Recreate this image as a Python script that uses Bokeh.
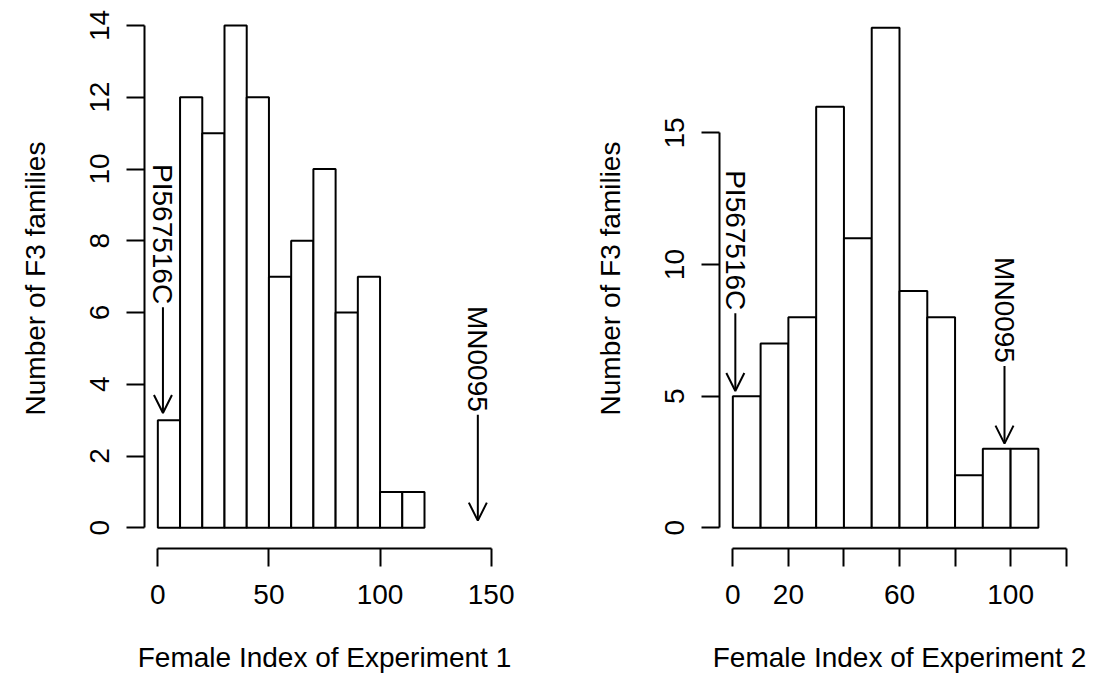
import numpy as np
from bokeh.plotting import figure
from bokeh.layouts import row
from bokeh.models import Arrow, OpenHead, ColumnDataSource, FixedTicker, Range1d
from bokeh.core.properties import value
from bokeh.embed import file_html
from bokeh.resources import INLINE

# ---- Experiment 1 data ----
exp1_edges = [0, 10, 20, 30, 40, 50, 60, 70, 80, 90, 100, 110, 120]
exp1_counts = [3, 12, 11, 14, 12, 7, 8, 10, 6, 7, 1, 1]
exp1_xticks = [0, 50, 100, 150]
exp1_yticks = [0, 2, 4, 6, 8, 10, 12, 14]
exp1_marker_names = ["PI567516C", "MN0095"]
exp1_marker_x = [2.3, 144.0]
exp1_marker_base = [3, 0]

# ---- Experiment 2 data ----
exp2_edges = [0, 10, 20, 30, 40, 50, 60, 70, 80, 90, 100, 110]
exp2_counts = [5, 7, 8, 16, 11, 19, 9, 8, 2, 3, 3]
exp2_xticks = [0, 20, 40, 60, 80, 100, 120]
exp2_xtick_labels = ["0", "20", "", "60", "", "100", ""]
exp2_yticks = [0, 5, 10, 15]
exp2_marker_names = ["PI567516C", "MN0095"]
exp2_marker_x = [0.9, 97.8]
exp2_marker_base = [5, 3]

FONT = "Liberation Sans"
FS = "28px"
ARROW_TOP = 3.15
ARROW_TIP = 0.2


def panel(edges, counts, xticks, xlabels, yticks, names, mx, mbase,
          xrange, yrange, width, border_right, title):
    p = figure(width=width, height=685, output_backend="svg", toolbar_location=None,
               x_range=Range1d(*xrange), y_range=Range1d(*yrange),
               min_border_left=144, min_border_right=border_right,
               min_border_top=8, min_border_bottom=137)
    p.outline_line_color = None
    p.xgrid.visible = False
    p.ygrid.visible = False
    p.background_fill_color = "white"
    p.border_fill_color = "white"

    p.quad(left=edges[:-1], right=edges[1:], bottom=0, top=counts,
           fill_color="white", line_color="black", line_width=2)

    tops = [b + ARROW_TOP for b in mbase]
    tips = [b + ARROW_TIP for b in mbase]
    src = ColumnDataSource(dict(x=mx, y0=tops, y1=tips, name=names))
    p.add_layout(Arrow(end=OpenHead(size=18, line_width=2, line_color="black"),
                       x_start="x", y_start="y0", x_end="x", y_end="y1",
                       line_width=2, line_color="black", source=src))
    p.text(x="x", y="y0", text="name", source=src, angle=-np.pi / 2,
           text_align="right", text_baseline="middle", y_offset=-3,
           text_font=value(FONT), text_font_size=FS, text_color="black")

    for ax in (p.xaxis[0], p.yaxis[0]):
        ax.axis_line_width = 2
        ax.axis_line_color = "black"
        ax.major_tick_line_width = 2
        ax.major_tick_line_color = "black"
        ax.major_tick_in = 0
        ax.major_tick_out = 18
        ax.minor_tick_line_color = None
        ax.major_label_text_font = FONT
        ax.major_label_text_font_size = FS
        ax.major_label_text_color = "black"
        ax.axis_label_text_font = FONT
        ax.axis_label_text_font_size = FS
        ax.axis_label_text_font_style = "normal"
        ax.axis_label_text_color = "black"

    p.xaxis.ticker = FixedTicker(ticks=xticks)
    p.xaxis.bounds = (xticks[0], xticks[-1])
    p.xaxis.major_label_overrides = {t: l for t, l in zip(xticks, xlabels)}
    p.xaxis.major_label_standoff = 18
    p.xaxis.axis_label = title
    p.xaxis.axis_label_standoff = 35

    p.yaxis.ticker = FixedTicker(ticks=yticks)
    p.yaxis.bounds = (yticks[0], yticks[-1])
    p.yaxis.major_label_orientation = "vertical"
    p.yaxis.major_label_standoff = 17
    p.yaxis.axis_label = "Number of F3 families"
    p.yaxis.axis_label_standoff = 37
    return p


p1 = panel(exp1_edges, exp1_counts, exp1_xticks, [str(t) for t in exp1_xticks],
           exp1_yticks, exp1_marker_names, exp1_marker_x, exp1_marker_base,
           (-6, 156), (-0.577, 14.474), 575, 71, "Female Index of Experiment 1")
p2 = panel(exp2_edges, exp2_counts, exp2_xticks, exp2_xtick_labels,
           exp2_yticks, exp2_marker_names, exp2_marker_x, exp2_marker_base,
           (-4.8, 124.8), (-0.786, 19.73), 521, 17, "Female Index of Experiment 2")

layout = row(p1, p2)
open("out.html", "w").write(file_html(layout, INLINE))
